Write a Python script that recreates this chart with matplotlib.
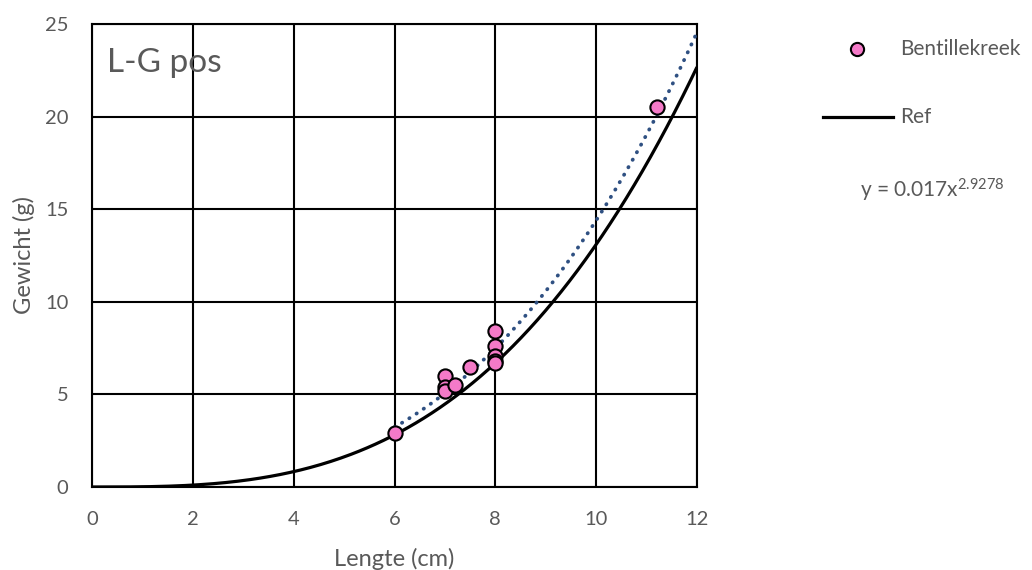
import numpy as np
import matplotlib.pyplot as plt
from matplotlib.lines import Line2D

plt.rcParams['font.family'] = ['Lato', 'DejaVu Sans']
plt.rcParams['mathtext.default'] = 'regular'

# measured fish: length (cm) and weight (g)
lengte = [6.0, 7.0, 7.0, 7.0, 7.2, 7.5, 8.0, 8.0, 8.0, 8.0, 8.0, 11.2]
gewicht = [2.9, 6.0, 5.4, 5.2, 5.5, 6.5, 8.4, 7.6, 7.1, 6.8, 6.7, 20.5]

# power trendline W = a * L^b
trend_a, trend_b = 0.017, 2.9278
# reference length-weight relation
ref_a, ref_b = 0.0128, 3.01

grey = '#595959'
pink = '#F47AC8'
W, H = 1032, 570

fig = plt.figure(figsize=(W / 100, H / 100), dpi=100)
ax = fig.add_axes([92 / W, 83 / H, 605 / W, 463 / H])

x_ref = np.linspace(0, 12, 300)
ax.plot(x_ref, ref_a * x_ref ** ref_b, color='black', lw=2.3, zorder=3,
        solid_capstyle='butt')

x_tr = np.linspace(min(lengte), 12, 200)
ax.plot(x_tr, trend_a * x_tr ** trend_b, color='#2F5082', lw=2.7,
        linestyle=(0, (0.1, 2.2)), dash_capstyle='round', zorder=4)

ax.scatter(lengte, gewicht, s=105, color=pink, edgecolor='black',
           linewidth=1.5, zorder=5, clip_on=False)

ax.set_xlim(0, 12)
ax.set_ylim(0, 25)
ax.set_xticks(range(0, 13, 2))
ax.set_yticks(range(0, 26, 5))
ax.grid(True, color='black', lw=1.5)
ax.set_axisbelow(True)
for s in ax.spines.values():
    s.set_color('black')
    s.set_linewidth(1.5)
ax.tick_params(length=0, labelsize=14.5, colors=grey)
ax.tick_params(axis='x', pad=17)
ax.tick_params(axis='y', pad=17)
ax.set_xlabel('Lengte (cm)', fontsize=17, color=grey)
ax.set_ylabel('Gewicht (g)', fontsize=17, color=grey)
ax.xaxis.set_label_coords(0.5, -0.131)
ax.yaxis.set_label_coords(-0.095, 0.5)

ax.text(0.3, 22.9, 'L-G pos', fontsize=24, color=grey, va='center', zorder=6)

# legend, laid out by hand on the right
fig.add_artist(Line2D([857 / W], [1 - 49 / H], marker='o', markersize=9.5,
                      markerfacecolor=pink, markeredgecolor='black',
                      markeredgewidth=1.5, linestyle='none'))
fig.text(900 / W, 1 - 49 / H, 'Bentillekreek', fontsize=15, color=grey,
         va='center')
fig.add_artist(Line2D([823 / W, 893 / W], [1 - 117 / H] * 2, color='black',
                      lw=2.3))
fig.text(900 / W, 1 - 117 / H, 'Ref', fontsize=15, color=grey, va='center')

fig.text(860 / W, 1 - 198 / H, r'y = 0.017x$^{2.9278}$', fontsize=15,
         color=grey, va='baseline')

fig.savefig('out.png', dpi=100)
